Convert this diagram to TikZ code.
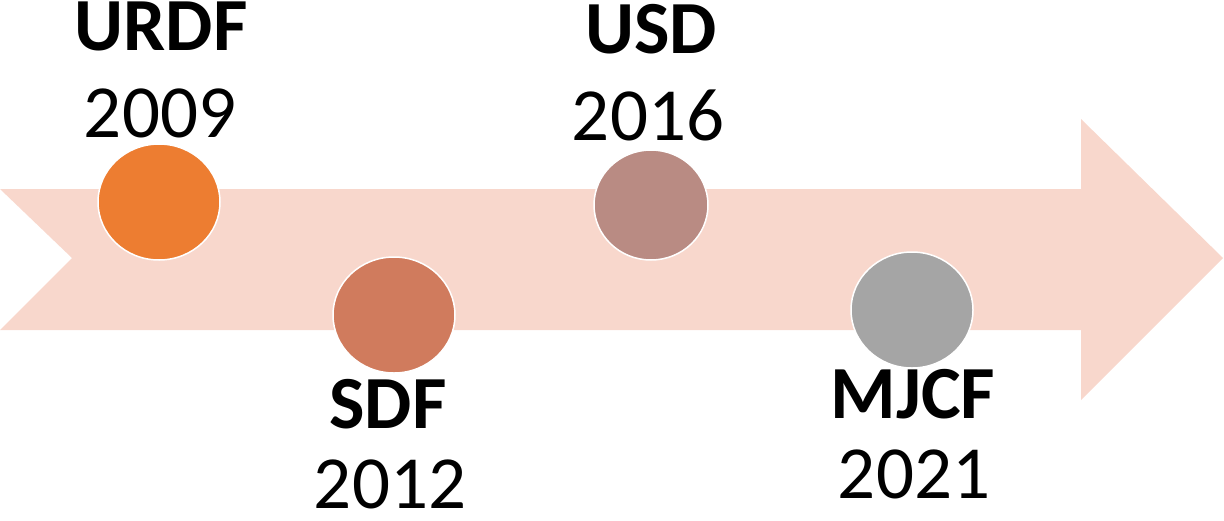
\documentclass[tikz,border=0pt]{standalone}
\usepackage{fontspec}
\setmainfont{Carlito}
\usetikzlibrary{shapes.geometric}
\definecolor{arrowfill}{HTML}{F8D7CC}
\definecolor{cA}{HTML}{ED7D31}
\definecolor{cB}{HTML}{D07B5D}
\definecolor{cC}{HTML}{B98B83}
\definecolor{cD}{HTML}{A5A5A5}
\tikzset{
  dot/.style={ellipse, draw=white, line width=1.5pt, inner sep=0pt, minimum width=122pt, minimum height=116pt},
  lbl/.style={anchor=base, inner sep=0pt, font=\fontsize{75}{80}\selectfont\bfseries},
  yr/.style={anchor=base, inner sep=0pt, font=\fontsize{75}{80}\selectfont},
}
\begin{document}
\begin{tikzpicture}[x=1pt,y=-1pt]
\useasboundingbox (0,0) rectangle (1224,520);
\fill[arrowfill] (0,189) -- (1081,189) -- (1081,119) -- (1223,258) -- (1081,400) -- (1081,330) -- (0,330) -- (72,258) -- cycle;
\node[dot, fill=cA] (c1) at (159,202) {};
\node[dot, fill=cB] (c2) at (394,315) {};
\node[dot, fill=cC, minimum width=114pt, minimum height=110pt] (c3) at (651,205) {};
\node[dot, fill=cD] (c4) at (912,310) {};
\node[lbl] (n1) at (161,50) {URDF};
\node[yr] (y1) at (160,137) {2009};
\node[lbl] (n3) at (651,53) {USD};
\node[yr] (y3) at (648,140) {2016};
\node[lbl] (n2) at (388,428) {SDF};
\node[yr] (y2) at (390,508) {2012};
\node[lbl] (n4) at (913,418) {MJCF};
\node[yr] (y4) at (914,498) {2021};
\end{tikzpicture}
\end{document}
